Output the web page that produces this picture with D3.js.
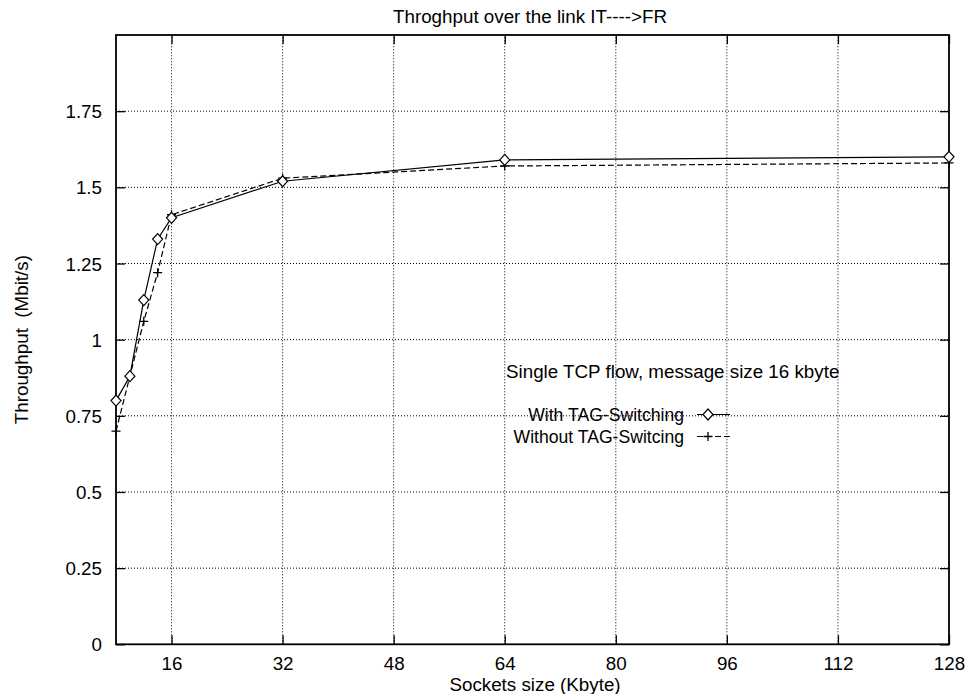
<!DOCTYPE html>
<html>
<head>
<meta charset="utf-8">
<script src="https://cdn.jsdelivr.net/npm/d3@7"></script>
<style>
  html, body { margin: 0; padding: 0; background: #fff; }
  svg { display: block; }
  text { font-family: "Liberation Sans", Arial, Helvetica, sans-serif; fill: #000; white-space: pre; }
</style>
</head>
<body>
<svg id="chart" width="968" height="694"></svg>
<script>
// ---- data ----
const socketSizes = [8, 10, 12, 14, 16, 32, 64, 128];
const withTag = [0.80, 0.88, 1.13, 1.33, 1.40, 1.52, 1.59, 1.60];
const withoutTag = [0.70, 0.88, 1.06, 1.22, 1.41, 1.53, 1.57, 1.58];
const xTicks = [16, 32, 48, 64, 80, 96, 112, 128];
const yTicks = [0, 0.25, 0.5, 0.75, 1, 1.25, 1.5, 1.75];
const yTickLabels = ["0", "0.25", "0.5", "0.75", "1", "1.25", "1.5", "1.75"];
const titleText = "Throghput over the link IT---->FR";
const xLabelText = "Sockets size (Kbyte)";
const yLabelText = "Throughput  (Mbit/s)";
const noteText = "Single TCP flow, message size 16 kbyte";
const seriesNames = ["With TAG-Switching", "Without TAG-Switcing"];

// ---- layout ----
const L = 116, R = 949, T = 35, B = 644.3;
const FS = 18.8;
const svg = d3.select("#chart");

const x = d3.scaleLinear().domain([8, 128]).range([L, R]);
const y = d3.scaleLinear().domain([0, 2]).range([B, T]);

// grid
const grid = svg.append("g").attr("stroke", "#000").attr("stroke-width", 1).attr("stroke-dasharray", "1,2");
grid.selectAll("line.gx").data(xTicks.filter(d => d < 128)).enter().append("line")
  .attr("x1", d => x(d)).attr("x2", d => x(d)).attr("y1", B).attr("y2", T);
grid.selectAll("line.gy").data(yTicks.filter(d => d > 0)).enter().append("line")
  .attr("y1", d => y(d)).attr("y2", d => y(d)).attr("x1", L).attr("x2", R);

// axes (ticks inward, mirrored)
const tickLen = 9;
const axB = svg.append("g").attr("transform", `translate(0,${B})`)
  .call(d3.axisBottom(x).tickValues(xTicks).tickSizeInner(-tickLen).tickSizeOuter(0).tickPadding(12));
const axT = svg.append("g").attr("transform", `translate(0,${T})`)
  .call(d3.axisTop(x).tickValues(xTicks).tickSizeInner(-tickLen).tickSizeOuter(0).tickFormat(""));
const axL = svg.append("g").attr("transform", `translate(${L},0)`)
  .call(d3.axisLeft(y).tickValues(yTicks).tickFormat((d, i) => yTickLabels[i]).tickSizeInner(-tickLen).tickSizeOuter(0).tickPadding(14));
const axR = svg.append("g").attr("transform", `translate(${R},0)`)
  .call(d3.axisRight(y).tickValues(yTicks).tickSizeInner(-tickLen).tickSizeOuter(0).tickFormat(""));
[axB, axT, axL, axR].forEach(a => {
  a.select(".domain").remove();
  a.selectAll(".tick line").attr("stroke", "#000").attr("stroke-width", 1.3);
  a.selectAll("text").attr("font-size", FS).attr("font-family", '"Liberation Sans", Arial, sans-serif').attr("fill", "#000");
});
axB.selectAll("text").attr("dy", "0.71em");
axL.selectAll("text").attr("dy", "0.35em");

// frame
svg.append("rect").attr("x", L).attr("y", T).attr("width", R - L).attr("height", B - T)
  .attr("fill", "none").attr("stroke", "#000").attr("stroke-width", 1.8);

// lines
const line = d3.line().x(d => x(d[0])).y(d => y(d[1]));
const withPts = socketSizes.map((s, i) => [s, withTag[i]]);
const withoutPts = socketSizes.map((s, i) => [s, withoutTag[i]]);

svg.append("path").datum(withoutPts).attr("d", line)
  .attr("fill", "none").attr("stroke", "#000").attr("stroke-width", 1.2).attr("stroke-dasharray", "6,3");
svg.append("path").datum(withPts).attr("d", line)
  .attr("fill", "none").attr("stroke", "#000").attr("stroke-width", 1.2);

function diamond(g, cx, cy) {
  g.append("path").attr("d", `M${cx},${cy - 5.5}L${cx + 5},${cy}L${cx},${cy + 5.5}L${cx - 5},${cy}Z`)
    .attr("fill", "#fff").attr("stroke", "#000").attr("stroke-width", 1.2);
}
function plus(g, cx, cy) {
  g.append("path").attr("d", `M${cx - 4.5},${cy}H${cx + 4.5}M${cx},${cy - 4.5}V${cy + 4.5}`)
    .attr("stroke", "#000").attr("stroke-width", 1.3);
}
const mk = svg.append("g");
withoutPts.forEach(p => plus(mk, x(p[0]), y(p[1])));
withPts.forEach(p => diamond(mk, x(p[0]), y(p[1])));

// title & labels
svg.append("text").attr("x", 530).attr("y", 23).attr("text-anchor", "middle").attr("font-size", FS).text(titleText);
svg.append("text").attr("x", 535).attr("y", 691).attr("text-anchor", "middle").attr("font-size", FS).text(xLabelText);
svg.append("text").attr("transform", `translate(28,${(T + B) / 2}) rotate(-90)`).attr("text-anchor", "middle")
  .attr("font-size", FS).attr("xml:space", "preserve").text(yLabelText);

// note & legend
svg.append("text").attr("x", 506).attr("y", 378).attr("font-size", FS).text(noteText);
const lg = svg.append("g");
const LFS = 17.6;
const legY = [414.5, 436.5];
lg.append("text").attr("x", 684).attr("y", legY[0] + 6.5).attr("text-anchor", "end").attr("font-size", LFS).text(seriesNames[0]);
lg.append("text").attr("x", 684).attr("y", legY[1] + 6.5).attr("text-anchor", "end").attr("font-size", LFS).text(seriesNames[1]);
lg.append("line").attr("x1", 697).attr("x2", 730).attr("y1", legY[0]).attr("y2", legY[0])
  .attr("stroke", "#000").attr("stroke-width", 1.2);
lg.append("line").attr("x1", 697).attr("x2", 730).attr("y1", legY[1]).attr("y2", legY[1])
  .attr("stroke", "#000").attr("stroke-width", 1.2).attr("stroke-dasharray", "6,3");
diamond(lg, 708, legY[0]);
plus(lg, 708, legY[1]);
</script>
</body>
</html>
